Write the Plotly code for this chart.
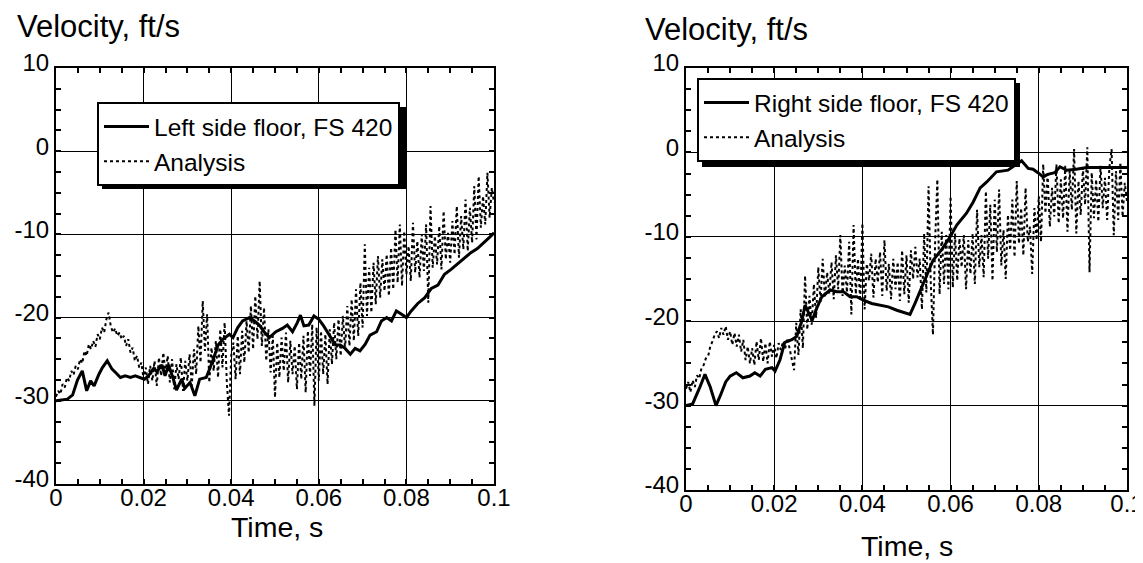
import plotly.graph_objects as go

W, H = 1143, 563
PAGE_OFFSET = 8  # default body margin of the html page
FONT = "Arial, Liberation Sans, Helvetica, sans-serif"

# ---------------- data ----------------
x_tickvals = [0, 0.02, 0.04, 0.06, 0.08, 0.1]
x_ticktext = ["0", "0.02", "0.04", "0.06", "0.08", "0.1"]
y_tickvals = [-40, -30, -20, -10, 0, 10]
y_ticktext = ["-40", "-30", "-20", "-10", "0", "10"]

left_floor_time = [0, 0.0026, 0.0038, 0.0049, 0.006, 0.007, 0.0079, 0.0087, 0.0098, 0.0106,
                   0.0117, 0.0128, 0.0136, 0.0147, 0.0158, 0.017, 0.0181, 0.0192, 0.0202, 0.0211,
                   0.0223, 0.023, 0.0242, 0.0249, 0.0257, 0.0268, 0.0275, 0.0287, 0.0294, 0.0306,
                   0.0317, 0.0328, 0.0343, 0.0358, 0.037, 0.0381, 0.0396, 0.0404, 0.0415, 0.0426,
                   0.0442, 0.0453, 0.0464, 0.0475, 0.0487, 0.0502, 0.0517, 0.0528, 0.054, 0.0551,
                   0.0558, 0.0566, 0.0577, 0.0589, 0.06, 0.0611, 0.0623, 0.0638, 0.0649, 0.066,
                   0.0672, 0.0683, 0.0694, 0.0706, 0.0717, 0.0732, 0.0743, 0.0755, 0.0766, 0.0777,
                   0.0789, 0.08, 0.0811, 0.0826, 0.0842, 0.0857, 0.0872, 0.0887, 0.0902, 0.0917,
                   0.0932, 0.0947, 0.0962, 0.0977, 0.0989, 0.1]
left_floor_vel = [-30, -29.8, -29.3, -27.5, -26.4, -28.8, -27.6, -28.2, -26.8, -26.0,
                  -25.2, -26.2, -26.6, -27.2, -27.0, -27.2, -27.0, -27.2, -27.4, -27.0,
                  -26.1, -26.5, -25.7, -27.0, -25.7, -27.4, -28.7, -27.4, -28.5, -27.8,
                  -29.4, -27.4, -27.2, -25.2, -23.3, -22.6, -22.0, -22.4, -21.2, -20.4,
                  -20.0, -20.4, -20.9, -21.7, -22.4, -21.7, -21.3, -20.9, -21.7, -20.6,
                  -19.7, -21.0, -20.9, -19.8, -20.2, -21.0, -22.1, -23.3, -23.3, -23.7,
                  -24.4, -23.7, -24.0, -23.2, -22.1, -21.7, -20.4, -20.0, -20.4, -19.2,
                  -19.6, -20.0, -19.2, -18.3, -17.6, -16.5, -16.1, -14.8, -14.2, -13.5,
                  -12.8, -12.2, -11.7, -11.0, -10.4, -9.8]

# analysis results sampled every 0.0005 s (rows of 10 samples = 0.005 s)
ANALYSIS_DT = 0.0005
left_analysis_vel = [
    -29.5, -28.8, -29.2, -28.0, -28.4, -27.2, -27.6, -26.4, -26.9, -25.8,
    -26.2, -25.0, -25.5, -24.0, -24.6, -23.2, -23.8, -22.8, -23.5, -22.0,
    -22.6, -21.2, -21.8, -20.2, -19.4, -21.0, -21.8, -21.3, -22.2, -21.8,
    -22.6, -22.2, -23.4, -22.6, -24.2, -23.6, -25.2, -24.6, -26.0, -25.4,
    -27.4, -26.0, -28.0, -25.8, -27.6, -25.2, -28.2, -24.8, -27.0, -24.2,
    -26.6, -24.6, -27.8, -25.0, -28.6, -25.6, -27.4, -24.8, -28.8, -25.2,
    -27.6, -24.4, -28.2, -23.8, -26.8, -21.0, -25.4, -18.0, -24.0, -19.6,
    -27.8, -23.6, -26.4, -22.8, -27.2, -21.4, -26.0, -20.6, -27.8, -31.8,
    -24.6, -23.0, -27.4, -22.2, -26.8, -21.6, -25.4, -20.4, -24.2, -18.6,
    -23.8, -17.4, -22.6, -15.6, -23.4, -18.8, -25.2, -21.4, -26.6, -22.2,
    -29.6, -23.0, -27.2, -22.4, -26.4, -21.8, -27.8, -22.8, -26.8, -23.4,
    -28.6, -23.0, -27.4, -22.2, -29.0, -21.6, -27.0, -20.8, -30.6, -21.2,
    -27.6, -21.6, -26.8, -22.0, -28.0, -21.4, -25.6, -20.6, -25.0, -20.2,
    -24.6, -19.8, -23.8, -18.6, -23.4, -17.8, -22.8, -16.6, -22.2, -15.8,
    -21.2, -11.2, -19.8, -14.0, -19.4, -13.4, -18.4, -12.6, -17.6, -13.0,
    -16.8, -12.4, -17.4, -11.6, -16.6, -9.4, -15.8, -8.8, -16.2, -9.6,
    -14.8, -11.4, -15.6, -8.6, -14.6, -10.8, -15.2, -10.0, -14.4, -8.8,
    -18.2, -6.6, -14.0, -10.2, -13.6, -9.0, -14.2, -7.2, -13.0, -9.8,
    -13.4, -8.4, -12.4, -6.6, -12.8, -7.8, -11.8, -5.8, -12.0, -6.8,
    -11.0, -4.2, -10.6, -3.0, -9.2, -5.4, -8.8, -2.6, -8.0, -4.4,
    -6.2,
]

right_floor_time = [0, 0.0015, 0.003, 0.0043, 0.0055, 0.0068, 0.0078, 0.009, 0.010, 0.0114,
                    0.0129, 0.0145, 0.0156, 0.0168, 0.018, 0.0195, 0.0202, 0.0213, 0.0224, 0.024,
                    0.0251, 0.0263, 0.027, 0.0278, 0.0286, 0.0297, 0.0308, 0.0327, 0.0342, 0.0357,
                    0.0372, 0.0387, 0.0402, 0.0421, 0.044, 0.0459, 0.0478, 0.0495, 0.0508, 0.052,
                    0.0542, 0.056, 0.058, 0.0599, 0.0614, 0.0636, 0.0651, 0.0667, 0.0682, 0.0704,
                    0.073, 0.0746, 0.0761, 0.0776, 0.0787, 0.0798, 0.081, 0.082, 0.0836, 0.0848,
                    0.0863, 0.0885, 0.0908, 0.0938, 0.0969, 0.1]
right_floor_vel = [-30, -29.8, -28, -26.3, -27.8, -30, -28.8, -27.2, -26.5, -26.1,
                   -26.7, -26.5, -26.1, -26.5, -25.7, -25.5, -25.9, -24.6, -22.5, -22.2,
                   -21.8, -19.9, -18.1, -19.0, -19.9, -18.4, -17.1, -16.3, -16.5, -16.5,
                   -17.1, -17.1, -17.5, -17.9, -18.1, -18.3, -18.7, -19.0, -19.2, -17.8,
                   -15.1, -12.8, -11.5, -10.0, -8.6, -7.2, -5.9, -4.2, -3.5, -2.3,
                   -2.1, -1.5, -1.0, -1.9, -2.0, -2.4, -2.9, -2.6, -2.4, -1.7,
                   -2.1, -2.0, -1.8, -1.8, -1.8, -1.8]

right_analysis_vel = [
    -28.0, -27.2, -28.4, -27.0, -27.8, -26.4, -26.8, -25.6, -25.2, -24.4,
    -24.2, -23.0, -22.4, -21.6, -21.2, -22.0, -20.8, -21.6, -20.6, -22.2,
    -21.2, -22.8, -21.4, -23.0, -21.6, -23.6, -22.2, -24.6, -23.0, -25.0,
    -23.2, -25.2, -22.4, -24.6, -22.0, -24.8, -22.6, -25.0, -22.4, -24.2,
    -22.8, -24.4, -22.6, -23.4, -22.4, -23.2, -22.0, -23.4, -24.6, -25.8,
    -20.2, -24.0, -18.6, -23.2, -14.6, -21.0, -17.0, -20.4, -15.6, -19.6,
    -13.6, -17.8, -12.6, -17.2, -14.2, -16.8, -13.0, -17.4, -12.2, -16.2,
    -9.8, -17.0, -13.4, -16.6, -10.6, -19.2, -8.6, -16.8, -12.6, -17.6,
    -8.4, -18.6, -13.2, -15.2, -12.0, -17.2, -12.6, -15.4, -11.8, -17.0,
    -10.4, -16.4, -13.2, -17.4, -12.6, -16.2, -13.0, -17.6, -11.6, -16.8,
    -12.2, -17.8, -11.6, -15.0, -11.2, -14.8, -12.6, -18.6, -9.6, -16.6,
    -4.0, -15.4, -21.6, -10.4, -3.2, -16.8, -9.4, -15.6, -9.8, -16.2,
    -5.2, -16.0, -9.6, -15.2, -10.2, -13.6, -9.8, -16.2, -10.4, -14.4,
    -9.6, -15.6, -6.8, -13.6, -9.8, -14.8, -4.6, -12.6, -6.2, -15.2,
    -5.6, -11.8, -4.4, -13.4, -9.2, -15.0, -7.4, -11.6, -5.6, -12.4,
    -3.4, -10.8, -6.6, -12.2, -4.2, -10.6, -8.8, -14.4, -6.6, -10.4,
    -5.2, -10.6, -1.4, -7.2, -2.6, -8.8, -4.2, -7.6, -1.4, -8.4,
    -3.2, -7.8, -1.6, -9.4, -2.2, -6.8, 0.4, -9.6, -3.4, -7.4,
    -1.8, -6.2, 0.6, -14.2, -2.4, -7.8, -3.2, -8.2, -1.6, -6.6,
    -3.0, -8.0, -1.8, 0.4, -9.8, -2.2, -8.0, -1.2, -7.6, -3.6,
    -5.8,
]

left_analysis_time = [round(i * ANALYSIS_DT, 4) for i in range(len(left_analysis_vel))]
right_analysis_time = [round(i * ANALYSIS_DT, 4) for i in range(len(right_analysis_vel))]

# ---------------- figure ----------------
def px_x(p):
    """page pixel (from left of window) -> paper fraction"""
    return (p - PAGE_OFFSET) / W

def px_y(p):
    """page pixel (from top of window) -> paper fraction"""
    return 1 - (p - PAGE_OFFSET) / H

fig = go.Figure()

solid = dict(color="black", width=3)
dotted = dict(color="black", width=2, dash="dot")

fig.add_trace(go.Scatter(x=left_floor_time, y=left_floor_vel, mode="lines", line=solid,
                         name="Left side floor, FS 420", xaxis="x", yaxis="y", legend="legend"))
fig.add_trace(go.Scatter(x=left_analysis_time, y=left_analysis_vel, mode="lines", line=dotted,
                         name="Analysis", xaxis="x", yaxis="y", legend="legend"))
fig.add_trace(go.Scatter(x=right_floor_time, y=right_floor_vel, mode="lines", line=solid,
                         name="Right side floor, FS 420", xaxis="x2", yaxis="y2", legend="legend2"))
fig.add_trace(go.Scatter(x=right_analysis_time, y=right_analysis_vel, mode="lines", line=dotted,
                         name="Analysis", xaxis="x2", yaxis="y2", legend="legend2"))

tickfont = dict(family=FONT, size=24, color="black")

def xaxis(domain, anchor):
    return dict(domain=domain, anchor=anchor, range=[0, 0.1], tickvals=x_tickvals, ticktext=x_ticktext,
                automargin=False,
                showgrid=True, gridcolor="black", gridwidth=1.3, zeroline=False,
                showline=True, linecolor="black", linewidth=2, mirror="ticks",
                ticks="inside", ticklen=5, tickwidth=1.5, tickcolor="black", tickfont=tickfont,
                ticklabelstandoff=-9,
                minor=dict(dtick=0.005, ticks="inside", ticklen=5, tickwidth=1.5, tickcolor="black",
                           showgrid=False))

def yaxis(domain, anchor):
    return dict(domain=domain, anchor=anchor, range=[-40, 10], tickvals=y_tickvals, ticktext=y_ticktext,
                automargin=False,
                showgrid=True, gridcolor="black", gridwidth=1.3, zeroline=False,
                showline=True, linecolor="black", linewidth=2, mirror="ticks",
                ticks="inside", ticklen=5, tickwidth=1.5, tickcolor="black", tickfont=tickfont,
                ticklabelstandoff=0, ticklabelshift=-5,
                minor=dict(dtick=2.5, ticks="inside", ticklen=5, tickwidth=1.5, tickcolor="black",
                           showgrid=False))

legend_common = dict(xanchor="left", yanchor="top", bgcolor="white", bordercolor="black",
                     borderwidth=2, font=dict(family=FONT, size=24.5, color="black"),
                     tracegroupgap=0, itemwidth=45)

# legend drop shadows (page pixel boxes: left, top, right, bottom)
shadows = [(102, 107, 406, 189), (702, 83, 1020, 167)]
shapes = [dict(type="rect", xref="paper", yref="paper", x0=px_x(a), x1=px_x(c), y0=px_y(d), y1=px_y(b),
               fillcolor="black", line=dict(width=0), layer="above") for (a, b, c, d) in shadows]

vel_font = dict(family=FONT, size=31, color="black")
time_font = dict(family=FONT, size=28.5, color="black")
annotations = [
    dict(text="Velocity, ft/s", x=px_x(15), y=px_y(27), xref="paper", yref="paper",
         xanchor="left", yanchor="middle", showarrow=False, font=vel_font),
    dict(text="Velocity, ft/s", x=px_x(643), y=px_y(29), xref="paper", yref="paper",
         xanchor="left", yanchor="middle", showarrow=False, font=vel_font),
    dict(text="Time, s", x=px_x(277), y=px_y(527), xref="paper", yref="paper",
         xanchor="center", yanchor="middle", showarrow=False, font=time_font),
    dict(text="Time, s", x=px_x(907), y=px_y(546), xref="paper", yref="paper",
         xanchor="center", yanchor="middle", showarrow=False, font=time_font),
]

fig.update_layout(
    width=W, height=H, margin=dict(l=0, r=0, t=0, b=0),
    paper_bgcolor="white", plot_bgcolor="white",
    xaxis=xaxis([px_x(56), px_x(494)], "y"),
    yaxis=yaxis([px_y(484), px_y(68)], "x"),
    xaxis2=xaxis([px_x(686), px_x(1127)], "y2"),
    yaxis2=yaxis([px_y(490), px_y(68)], "x2"),
    legend=dict(x=px_x(97), y=px_y(102), **legend_common),
    legend2=dict(x=px_x(697), y=px_y(78), **legend_common),
    shapes=shapes,
    annotations=annotations,
    showlegend=True,
)

fig.write_html("out.html")
